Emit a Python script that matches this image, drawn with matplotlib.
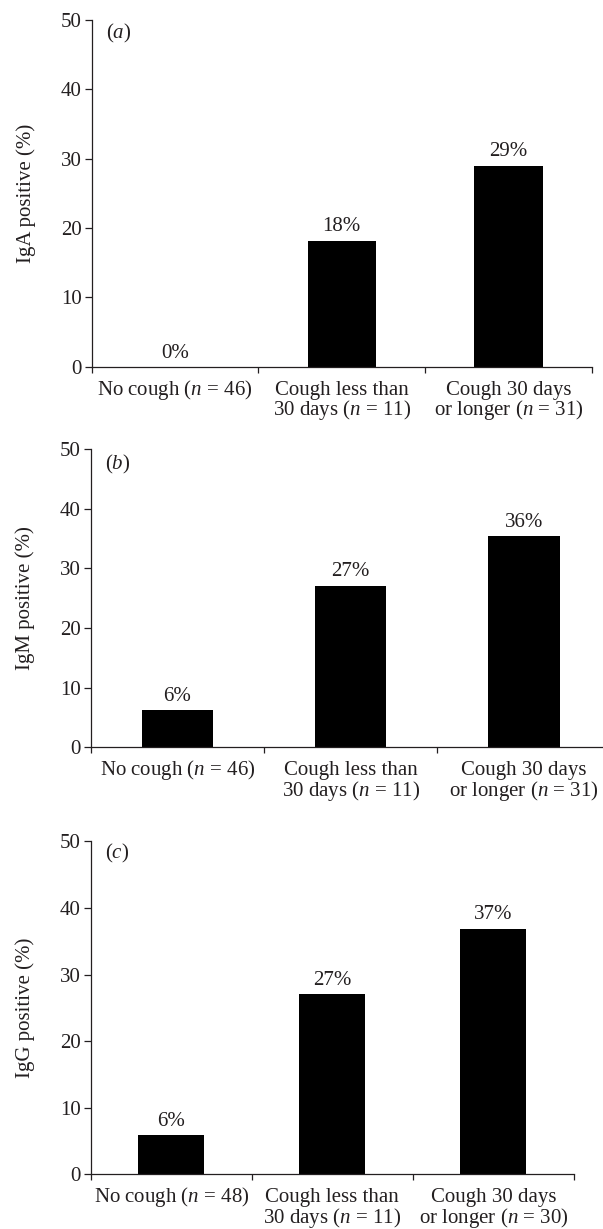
import matplotlib.pyplot as plt

plt.rcParams['font.family'] = ['Liberation Serif', 'DejaVu Serif']
plt.rcParams['mathtext.fontset'] = 'custom'
plt.rcParams['mathtext.rm'] = 'Liberation Serif'
plt.rcParams['mathtext.it'] = 'Liberation Serif:italic'

ink = '#231f20'

# data
cats_a = ['No cough ($n$ = 46)', 'Cough less than\n30 days ($n$ = 11)', 'Cough 30 days\nor longer ($n$ = 31)']
cats_b = ['No cough ($n$ = 46)', 'Cough less than\n30 days ($n$ = 11)', 'Cough 30 days\nor longer ($n$ = 31)']
cats_c = ['No cough ($n$ = 48)', 'Cough less than\n30 days ($n$ = 11)', 'Cough 30 days\nor longer ($n$ = 30)']

iga = [0, 18.2, 29.0]
igm = [6.2, 27.1, 35.4]
igg = [5.9, 27.0, 36.9]

iga_txt = ['0%', '18%', '29%']
igm_txt = ['6%', '27%', '36%']
igg_txt = ['6%', '27%', '37%']

W, H = 603, 1229
fig = plt.figure(figsize=(W / 100, H / 100), dpi=100)

panels = [
    # rect (fig fraction), values, labels, categories, ylabel, tag, tag offset (pt)
    ([91.7 / W, 1 - 366.7 / H, 500 / W, 346.7 / H], iga, iga_txt, cats_a, 'IgA positive (%)', '($a$)', 9.4),
    ([90.7 / W, 1 - 747.3 / H, 520 / W, 298.3 / H], igm, igm_txt, cats_b, 'IgM positive (%)', '($b$)', 11.5),
    ([90.7 / W, 1 - 1174.3 / H, 483.3 / W, 333 / H], igg, igg_txt, cats_c, 'IgG positive (%)', '($c$)', 8.6),
]

for rect, vals, txts, cats, ylab, tag, tag_dy in panels:
    ax = fig.add_axes(rect)
    x = list(range(len(vals)))
    ax.bar(x, vals, width=0.41, color='black')
    ax.set_xlim(-0.5, 2.5)
    ax.set_ylim(0, 50)
    ax.set_yticks(range(0, 51, 10))

    # ticks sit between the groups
    ax.set_xticks([-0.5, 0.5, 1.5, 2.5])
    ax.tick_params(axis='x', length=4, width=0.9, direction='out',
                   labelbottom=False, color=ink)
    ax.tick_params(axis='y', length=4.8, width=0.9, pad=2.4, labelsize=15,
                   color=ink, labelcolor=ink)

    # category names under the bars, one baseline per line so they line up
    for xi, c in zip(x, cats):
        for k, line in enumerate(c.split('\n')):
            ax.annotate(line, (xi, 0), xytext=(0, -20.3 - 14.5 * k),
                        textcoords='offset points', ha='center', va='baseline',
                        fontsize=15, color=ink, annotation_clip=False)

    for s in ['top', 'right']:
        ax.spines[s].set_visible(False)
    for s in ['left', 'bottom']:
        ax.spines[s].set_linewidth(0.9)
        ax.spines[s].set_color(ink)

    for xi, v, t in zip(x, vals, txts):
        ax.annotate(t, (xi, v), xytext=(0, 3), textcoords='offset points',
                    ha='center', va='bottom', fontsize=15, color=ink)

    ax.annotate(tag, xy=(0, 1), xycoords='axes fraction', xytext=(10, -tag_dy),
                textcoords='offset points', ha='left', va='center',
                fontsize=15, color=ink)

    ax.set_ylabel(ylab, fontsize=15, color=ink)
    ax.yaxis.set_label_coords(-56 / (rect[2] * W), 0.5)

fig.savefig('out.png', dpi=100)
